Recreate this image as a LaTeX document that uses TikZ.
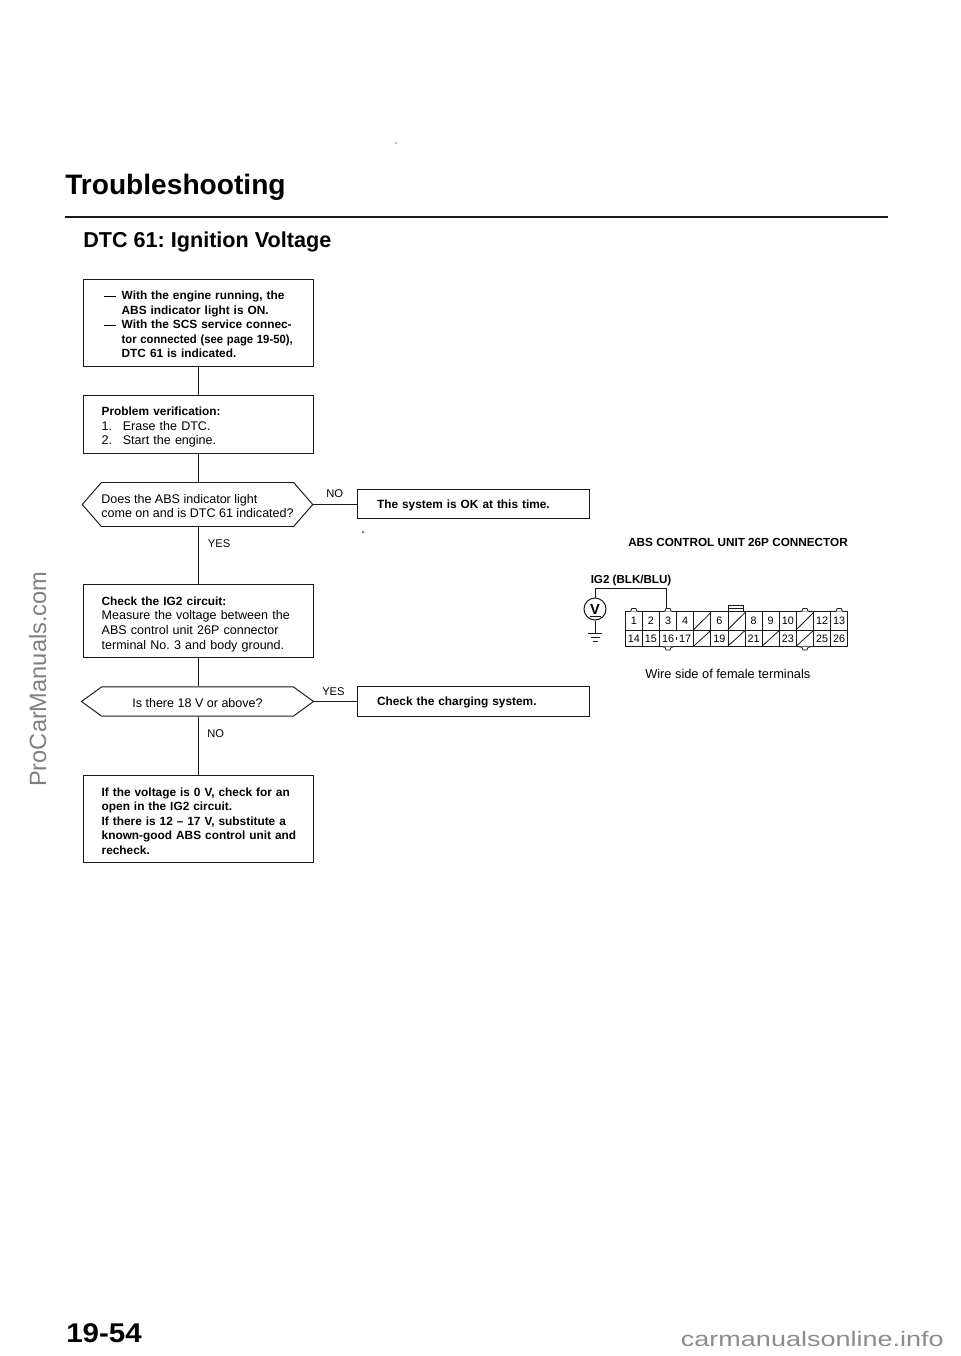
\documentclass[tikz,border=0pt]{standalone}
\usepackage{fontspec}
\setmainfont{Liberation Sans}
\usetikzlibrary{shapes.symbols}
\newcommand{\bodyfs}{\fontsize{9.4}{10.9}\selectfont\frenchspacing}
\newcommand{\boldfs}{\fontsize{8.9}{10.9}\selectfont\bfseries\frenchspacing}
\newcommand{\tagfs}{\fontsize{8.4}{10}\selectfont}
\newcommand{\hang}{\hspace*{15pt}}
\newcommand{\dashitem}{\hspace*{2pt}\makebox[13pt][l]{\rule[2.3pt]{9pt}{0.7pt}}}
\tikzset{
  wire/.style={line width=0.72pt,black!90},
  stepbox/.style={draw=black!90,line width=0.72pt,minimum width=172.5pt,inner xsep=0pt,inner ysep=0pt,text width=144.5pt,align=left,font=\bodyfs},
  sidebox/.style={draw=black!90,line width=0.72pt,minimum width=174pt,inner xsep=0pt,inner ysep=0pt,text width=144pt,align=left,font=\boldfs},
  ask/.style={draw=black!90,line width=0.72pt,shape=signal,signal to=west and east,minimum width=171pt,inner sep=0pt,align=left,font=\bodyfs},
  tag/.style={font=\tagfs,anchor=base west,inner sep=0pt},
  pin/.style={font=\fontsize{8.1}{9}\selectfont,inner sep=0pt},
  cell/.style={draw=black!90,line width=0.6pt}
}
\begin{document}
\begin{tikzpicture}[x=0.75pt,y=-0.75pt]
\useasboundingbox (0,0) rectangle (960,1356);
\fill[white] (0,0) rectangle (960,1356);

% headings
\node[anchor=base west,inner sep=0pt,font=\fontsize{21.1}{24}\selectfont\bfseries] (title) at (65,194) {Troubleshooting};
\coordinate (ruleL) at (65,217); \coordinate (ruleR) at (888,217);
\draw[line width=1.2pt,black!90] (ruleL) -- (ruleR);
\node[anchor=base west,inner sep=0pt,font=\fontsize{16.2}{20}\selectfont\bfseries\frenchspacing] (sub) at (83,247) {DTC 61: Ignition Voltage};

% flow
\node[stepbox,minimum height=65.25pt,font=\boldfs] (b1) at (198,322.5) {\rule{0pt}{9.5pt}\dashitem With the engine running, the\\\hang ABS indicator light is ON.\\\dashitem With the SCS service connec-\\\hang\mbox{\scalebox{0.95}[1]{tor connected (see page 19-50),}}\\\hang DTC 61 is indicated.};
\node[stepbox,minimum height=43.5pt] (b2) at (198,424) {\rule{0pt}{11pt}{\boldfs Problem verification:}\\1.\hspace{8pt}Erase the DTC.\\2.\hspace{8pt}Start the engine.};
\node[ask,signal pointer angle=98,minimum height=33pt] (q1) at (197.5,504.5) {\rule{0pt}{9pt}Does the ABS indicator light\\come on and is DTC 61 indicated?};
\node[stepbox,minimum height=54.75pt] (b3) at (198,620.5) {\rule{0pt}{12pt}{\boldfs Check the IG2 circuit:}\\Measure the voltage between the\\ABS control unit 26P connector\\terminal No. 3 and body ground.};
\node[ask,signal pointer angle=72,minimum height=22pt] (q2) at (197.5,701.5) {\hspace*{23pt}\rule{0pt}{8.5pt}Is there 18 V or above?\hspace*{23pt}};
\node[stepbox,minimum height=65.25pt,font=\boldfs] (b4) at (198,818.5) {\rule{0pt}{10pt}If the voltage is 0 V, check for an\\open in the IG2 circuit.\\If there is 12 -- 17 V, substitute a\\\mbox{known-good ABS control unit and}\\recheck.};
\node[sidebox,minimum height=21.75pt] (ok) at (473,503.5) {\rule{0pt}{9pt}The system is OK at this time.};
\node[sidebox,minimum height=22.5pt] (cs) at (473,701) {\rule{0pt}{9pt}Check the charging system.};

\draw[wire] (b1) -- (b2);
\draw[wire] (b2) -- (b2 |- q1.north);
\draw[wire] (b2 |- q1.south) -- (b3);
\draw[wire] (b3) -- (b3 |- q2.north);
\draw[wire] (b3 |- q2.south) -- (b4);
\draw[wire] (q1.east) -- (ok.west |- q1.east);
\draw[wire] (q2.east) -- (cs.west |- q2.east);

\node[tag] (lyes1) at (207.7,547) {YES};
\node[tag] (lno1) at (326,497.7) {NO};
\node[tag] (lyes2) at (322,695) {YES};
\node[tag] (lno2) at (207,737.5) {NO};

% connector panel
\node[anchor=base west,inner sep=0pt,font=\fontsize{8.8}{10}\selectfont\bfseries] (conn) at (628,546.5) {ABS CONTROL UNIT 26P CONNECTOR};
\node[anchor=base west,inner sep=0pt,font=\fontsize{8.7}{10}\selectfont\bfseries] (ig) at (590.5,583) {IG2 (BLK/BLU)};
\node[anchor=base west,inner sep=0pt,font=\fontsize{9.6}{10}\selectfont] (wire) at (645,678) {Wire side of female terminals};

\def\xo{625.3}\def\cw{17.11}
\draw[cell] (\xo,611.7) rectangle (\xo+13*\cw,646.7);
\draw[cell] (\xo,630) -- (\xo+13*\cw,630);
\foreach \i in {1,2,3,4,5,6,7,8,9,10,11,12}
  \draw[cell] (\xo+\i*\cw,611.7) -- (\xo+\i*\cw,630);
\foreach \i in {1,2,4,5,6,7,8,9,10,11,12}
  \draw[cell] (\xo+\i*\cw,630) -- (\xo+\i*\cw,646.7);
\draw[cell] (\xo+3*\cw,636.5) -- (\xo+3*\cw,639.5);
\foreach \c/\t in {1/1,2/2,3/3,4/4,6/6,8/8,9/9,10/10,12/12,13/13}
  \node[pin] (p\t) at (\xo+\c*\cw-0.5*\cw,621) {\t};
\foreach \c/\t in {1/14,2/15,3/16,4/17,6/19,8/21,10/23,12/25,13/26}
  \node[pin] (p\t) at (\xo+\c*\cw-0.5*\cw,639) {\t};
\foreach \c in {5,7,11}
  \draw[cell] (\xo+\c*\cw-\cw,629.5) -- (\xo+\c*\cw,612.5);
\foreach \c in {5,7,9,11}
  \draw[cell] (\xo+\c*\cw-\cw,646) -- (\xo+\c*\cw,630.5);
\foreach \c in {0.5,2.5,10.5,12.5}
  \draw[cell,fill=white] (\xo+\c*\cw-6,611.7) -- (\xo+\c*\cw-3,611) -- (\xo+\c*\cw-2,608.5) -- (\xo+\c*\cw+2,608.5) -- (\xo+\c*\cw+3,611) -- (\xo+\c*\cw+6,611.7);
\foreach \c in {2.5,10.5}
  \draw[cell,fill=white] (\xo+\c*\cw-6,646.7) -- (\xo+\c*\cw-3,647.4) -- (\xo+\c*\cw-2,650) -- (\xo+\c*\cw+2,650) -- (\xo+\c*\cw+3,647.4) -- (\xo+\c*\cw+6,646.7);
\draw[cell] (\xo+6*\cw,611.7) -- (\xo+6*\cw,605.7) -- (\xo+7*\cw-2,605.7) -- (\xo+7*\cw-2,611.7);
\draw[cell] (\xo+6*\cw,608.7) -- (\xo+7*\cw-2,608.7);

% meter
\node[draw=black!90,line width=0.75pt,circle,minimum size=16.5pt,inner sep=0pt,font=\fontsize{11}{11}\selectfont\bfseries] (vm) at (595,609) {V};
\coordinate (vbarL) at (589.5,616.2); \coordinate (vbarR) at (600.5,616.2);
\draw[wire] (vbarL) -- (vbarR);
\coordinate (wtop) at (666.7,588.5);
\coordinate (pin3) at (666.7,609);
\draw[wire] (vm.north) |- (wtop) -- (pin3);
\coordinate (gnd) at (595,633);
\coordinate (g1a) at (588,633); \coordinate (g1b) at (602,633);
\coordinate (g2a) at (591,637); \coordinate (g2b) at (600,637);
\coordinate (g3a) at (592.5,641); \coordinate (g3b) at (597.5,641);
\draw[wire] (vm.south) -- (gnd);
\draw[wire] (g1a) -- (g1b);
\draw[wire] (g2a) -- (g2b);
\draw[wire] (g3a) -- (g3b);

% scan speck
\fill[black!80] (363,532) circle (1);
\fill[black!50] (396,143) circle (0.8);

% page number and site marks
\node[anchor=base west,inner sep=0pt,font=\fontsize{20.3}{24}\selectfont\bfseries] (page) at (66,1342.7) {\scalebox{1.09}[1]{19-54}};
\node[anchor=base west,inner sep=0pt,text=black!45,font=\fontsize{15.7}{20}\selectfont] (site) at (680.7,1346.7) {\scalebox{1.29}[1]{carmanualsonline.info}};
\node[anchor=base west,inner sep=0pt,rotate=90,text=black!50,font=\fontsize{17.7}{24}\selectfont] (pcm) at (46,787) {ProCarManuals.com};
\end{tikzpicture}
\end{document}
